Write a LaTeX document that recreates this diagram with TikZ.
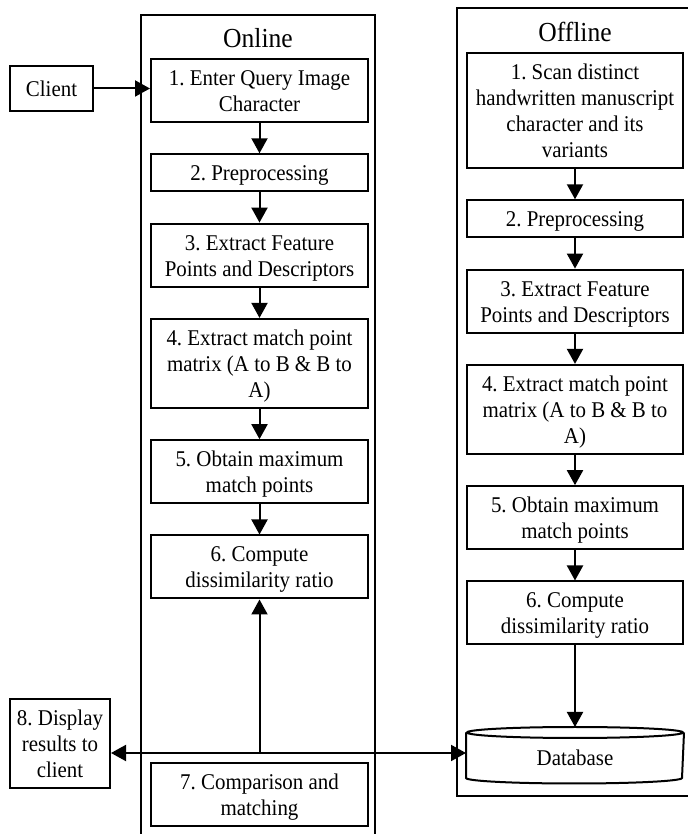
\documentclass[tikz,border=0pt]{standalone}
\usepackage{fontspec}
\setmainfont{Liberation Serif}[FakeStretch=0.93]
\usetikzlibrary{arrows.meta, positioning, calc}
\newcommand\boxstrut{\rule[-5pt]{0pt}{26pt}}
\frenchspacing

\begin{document}
\begin{tikzpicture}[x=1pt, y=1pt, node distance=30.3pt, line width=2pt, box/.style={draw, text width=213pt, inner xsep=2pt, inner ysep=5.5pt, align=flush center, font=\fontsize{22.5}{26}\selectfont, execute at begin node=\boxstrut, execute at end node=\boxstrut}, title/.style={font=\fontsize{27.5}{32}\selectfont}, >={Triangle[length=15pt, width=16pt]}]
\useasboundingbox (0,0) rectangle (687,834);
\draw (141,0) -- (141,819) -- (375,819) -- (375,0);
\draw (690,826) -- (457,826) -- (457,38) -- (690,38);
\node[title] (ontitle) at (258,796) {Online};
\node[title] (offtitle) at (575,802) {Offline};
\node[box, anchor=north] (on1) at (259.5,776) {1. Enter Query Image\\Character};
\node[box, below=of on1] (on2) {2. Preprocessing};
\node[box, below=of on2] (on3) {3. Extract Feature\\Points and Descriptors};
\node[box, below=of on3] (on4) {4. Extract match point\\matrix (A to B \& B to\\A)};
\node[box, below=of on4] (on5) {5. Obtain maximum\\match points};
\node[box, below=of on5] (on6) {6. Compute\\dissimilarity ratio};
\node[box] (on7) at (259.5,39) {7. Comparison and\\matching};
\node[box, text width=212pt, anchor=north] (of1) at (575,782) {1. Scan distinct\\handwritten manuscript\\character and its\\variants};
\node[box, text width=212pt, below=of of1] (of2) {2. Preprocessing};
\node[box, text width=212pt, below=of of2] (of3) {3. Extract Feature\\Points and Descriptors};
\node[box, text width=212pt, below=of of3] (of4) {4. Extract match point\\matrix (A to B \& B to\\A)};
\node[box, text width=212pt, below=of of4] (of5) {5. Obtain maximum\\match points};
\node[box, text width=212pt, below=of of5] (of6) {6. Compute\\dissimilarity ratio};
\node[minimum width=216pt, minimum height=38pt, font=\fontsize{22.5}{26}\selectfont] (db) at (575,76) {Database};
\draw ([yshift=5.5pt]db.north) ellipse [x radius=108pt, y radius=5.5pt];
\draw ([yshift=5.5pt]db.north west) -- (db.south west) arc [start angle=180, end angle=360, x radius=108pt, y radius=5.5pt] -- ([yshift=5.5pt]db.north east);
\node[box, text width=79pt, minimum height=45pt] (client) at (51.5,745.5) {Client};
\node[box, text width=96pt] (disp) at (60,90.5) {8. Display\\results to\\client};
\coordinate (jn) at ([yshift=5pt]db.west);
\draw[->] (client) -- (on1.west |- client);
\draw[->] (on1) -- (on2);
\draw[->] (on2) -- (on3);
\draw[->] (on3) -- (on4);
\draw[->] (on4) -- (on5);
\draw[->] (on5) -- (on6);
\draw[->] (of1) -- (of2);
\draw[->] (of2) -- (of3);
\draw[->] (of3) -- (of4);
\draw[->] (of4) -- (of5);
\draw[->] (of5) -- (of6);
\draw[->] (of6) -- ([yshift=11pt]db.north);
\draw[<->] (disp.east |- jn) -- (jn);
\draw[->] (on6.south |- jn) -- (on6.south);
\end{tikzpicture}
\end{document}
